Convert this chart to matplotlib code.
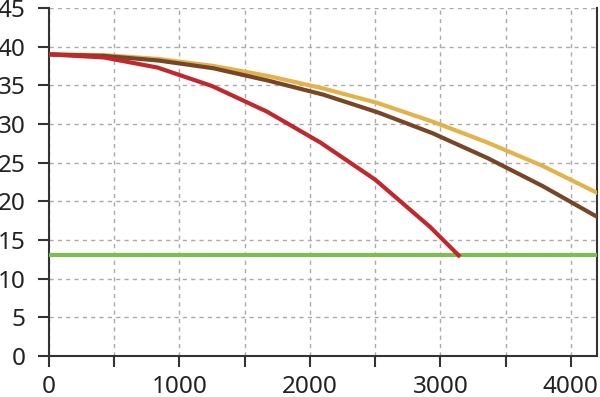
import matplotlib
matplotlib.use("Agg")
import matplotlib.pyplot as plt

x_red = [0, 420, 830, 1250, 1670, 2080, 2500, 2920, 3140]
y_red = [39.0, 38.6, 37.3, 34.9, 31.6, 27.6, 22.8, 16.7, 13.0]

x_curve = [0, 420, 840, 1260, 1680, 2100, 2520, 2940, 3360, 3780, 4200]
y_brown = [39.0, 38.8, 38.2, 37.2, 35.6, 33.8, 31.5, 28.8, 25.6, 22.0, 18.0]
y_gold = [39.0, 38.9, 38.4, 37.5, 36.2, 34.6, 32.7, 30.3, 27.6, 24.6, 21.1]

x_green = [0, 4200]
y_green = [13.0, 13.0]

plt.rcParams["font.family"] = ["Noto Sans", "DejaVu Sans"]

fig = plt.figure(figsize=(6.0, 3.97), dpi=100)
ax = fig.add_axes([0.0817, 0.1033, 0.9133, 0.8767])

ax.plot(x_green, y_green, color="#7dbf4f", lw=3, solid_capstyle="butt", zorder=3)
ax.plot(x_curve, y_gold, color="#e2b24c", lw=3, zorder=4)
ax.plot(x_curve, y_brown, color="#774628", lw=3, zorder=5)
ax.plot(x_red, y_red, color="#c0282d", lw=3, zorder=6)

ax.set_xlim(0, 4200)
ax.set_ylim(0, 45)
ax.set_xticks(range(0, 4201, 500))
ax.set_xticklabels([str(v) if v % 1000 == 0 else "" for v in range(0, 4201, 500)])
ax.set_yticks(range(0, 46, 5))

ax.grid(True, color="#aaaaaa", ls=(0, (3, 3)), lw=1)
ax.set_axisbelow(True)
ax.spines["top"].set_visible(False)
for s in ("left", "bottom", "right"):
    ax.spines[s].set_color("#333333")
    ax.spines[s].set_linewidth(1.5)
ax.tick_params(length=8, width=1.5, color="#333333", labelsize=17.5,
               labelcolor="#222222")
ax.tick_params(axis="x", pad=6)
ax.tick_params(axis="y", pad=9)

fig.savefig("out.png", dpi=100)
